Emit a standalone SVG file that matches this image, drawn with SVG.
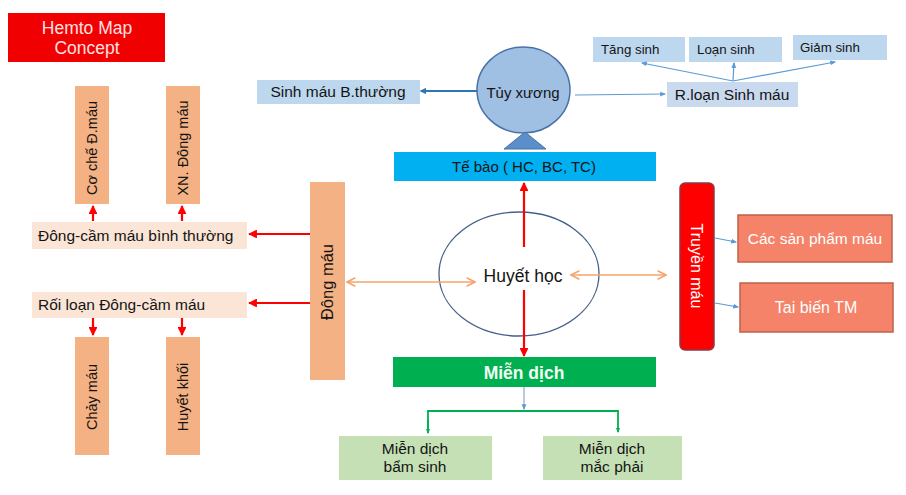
<svg xmlns="http://www.w3.org/2000/svg" width="906" height="495" viewBox="0 0 906 495">
<style>
text{font-family:"Liberation Sans",Arial,sans-serif;font-size:15.5px;fill:#141414}
.c{text-anchor:middle}
.peach{fill:#f4b183}
.lpeach{fill:#fbe5d6}
.lblue{fill:#bdd7ee}
.red{stroke:#ff0000;stroke-width:2.2;fill:none}
.org{stroke:#f4a46c;stroke-width:1.5;fill:none}
.blu{stroke:#5b9bd5;stroke-width:1.2;fill:none}
.grn{stroke:#00b050;stroke-width:1.8;fill:none}
</style>
<defs>
<marker id="ar" viewBox="0 0 10 10" refX="9" refY="5" markerWidth="4" markerHeight="4" orient="auto-start-reverse" markerUnits="strokeWidth"><path d="M0,0 L10,5 L0,10 z" fill="#ff0000"/></marker>
<marker id="ao" viewBox="0 0 10 10" refX="9" refY="5" markerWidth="7" markerHeight="7" orient="auto-start-reverse" markerUnits="strokeWidth"><path d="M1,1 L9,5 L1,9" fill="none" stroke="#f4a46c" stroke-width="1.5"/></marker>
<marker id="ab" viewBox="0 0 10 10" refX="8" refY="5" markerWidth="5" markerHeight="5" orient="auto" markerUnits="strokeWidth"><path d="M0,1 L10,5 L0,9 z" fill="#5b9bd5"/></marker>
<marker id="abd" viewBox="0 0 10 10" refX="8" refY="5" markerWidth="3" markerHeight="3" orient="auto" markerUnits="strokeWidth"><path d="M0,0 L10,5 L0,10 z" fill="#2e75b6"/></marker>
<marker id="ag" viewBox="0 0 10 10" refX="8" refY="5" markerWidth="3" markerHeight="3" orient="auto" markerUnits="strokeWidth"><path d="M0,1 L10,5 L0,9 z" fill="#00b050"/></marker>
</defs>

<g id="title"><rect x="8" y="13" width="157" height="49" fill="#f00000"/><text class="c" x="87" y="34" style="fill:#ffe0e0;font-size:17.5px">Hemto Map</text><text class="c" x="87" y="54" style="fill:#ffe0e0;font-size:17.5px">Concept</text></g>

<g id="co-che"><rect class="peach" x="75" y="86" width="34" height="118"/><text class="c" x="92" y="148" dy="5" transform="rotate(-90 92 148)" style="font-size:14.5px">Cơ chế Đ.máu</text></g>
<g id="xn-dong-mau"><rect class="peach" x="166" y="86" width="34" height="118"/><text class="c" x="183" y="148" dy="5" transform="rotate(-90 183 148)" style="font-size:14.5px">XN. Đông máu</text></g>
<g id="dong-cam-bt"><rect class="lpeach" x="32" y="222" width="215" height="27"/><text x="38" y="241">Đông-cầm máu bình thường</text></g>
<g id="roi-loan-dc"><rect class="lpeach" x="32" y="292" width="215" height="26"/><text x="38" y="310">Rối loạn Đông-cầm máu</text></g>
<g id="chay-mau"><rect class="peach" x="75" y="337" width="34" height="118"/><text class="c" x="92" y="397" dy="5" transform="rotate(-90 92 397)" style="font-size:14.5px">Chảy máu</text></g>
<g id="huyet-khoi"><rect class="peach" x="166" y="337" width="34" height="118"/><text class="c" x="183" y="397" dy="5" transform="rotate(-90 183 397)" style="font-size:14.5px">Huyết khối</text></g>
<g id="dong-mau"><rect class="peach" x="310" y="182" width="35" height="198"/><text class="c" x="327" y="282" dy="6" transform="rotate(-90 327 282)" style="font-size:16.5px">Đông máu</text></g>

<g id="sinh-mau-bt"><rect class="lblue" x="257" y="80" width="163" height="24"/><text class="c" x="338" y="97">Sinh máu B.thường</text></g>
<g id="tuy-xuong"><ellipse cx="523.5" cy="90" rx="46.5" ry="43" fill="#9fbfe3" stroke="#4a72a8" stroke-width="1.5"/><polygon points="525,132 504,149 546,149" fill="#5b8fcb" stroke="#4a72a8" stroke-width="1"/><text class="c" x="523" y="98" style="font-size:15px">Tủy xương</text></g>
<g id="r-loan"><rect x="667" y="82" width="131" height="25" fill="#c9d9ee"/><text class="c" x="732" y="100">R.loạn Sinh máu</text></g>
<g id="tang-sinh"><rect class="lblue" x="593" y="37" width="92" height="25"/><text x="601" y="54" style="font-size:13.3px">Tăng sinh</text></g>
<g id="loan-sinh"><rect class="lblue" x="689" y="37" width="93" height="25"/><text x="697" y="54" style="font-size:13.3px">Loạn sinh</text></g>
<g id="giam-sinh"><rect class="lblue" x="793" y="35" width="94" height="25"/><text x="800" y="52" style="font-size:13.3px">Giảm sinh</text></g>

<g id="te-bao"><rect x="394" y="152" width="262" height="29" fill="#00b0f0"/><text class="c" x="524" y="172" style="font-size:15px">Tế bào ( HC, BC, TC)</text></g>
<g id="huyet-hoc"><ellipse cx="519" cy="274" rx="80" ry="62" fill="#ffffff" stroke="#44608a" stroke-width="1.3"/><text class="c" x="523" y="282" style="font-size:17.5px">Huyết học</text></g>
<g id="mien-dich"><rect x="393" y="357" width="263" height="30" fill="#00b050"/><text class="c" x="524" y="379" style="font-size:17.5px;font-weight:bold;fill:#f4fff4">Miễn dịch</text></g>
<g id="md-bam-sinh"><rect x="339" y="436" width="153" height="44" fill="#c5e0b4"/><text class="c" x="415" y="454">Miễn dịch</text><text class="c" x="415" y="472">bẩm sinh</text></g>
<g id="md-mac-phai"><rect x="543" y="436" width="139" height="44" fill="#c5e0b4"/><text class="c" x="612" y="454">Miễn dịch</text><text class="c" x="612" y="472">mắc phải</text></g>

<g id="truyen-mau"><rect x="680" y="183" width="34" height="167" rx="5" fill="#ff0000" stroke="#8b3a4a" stroke-width="1.5"/><text class="c" x="697" y="266" dy="6" transform="rotate(90 697 266)" style="fill:#ffffff;font-size:16px">Truyền máu</text></g>
<g id="san-pham"><rect x="738" y="215" width="154" height="47" fill="#f4836a" stroke="#c0604a" stroke-width="1.5"/><text class="c" x="815" y="244" style="fill:#ffffff;font-size:15.5px">Các sản phẩm máu</text></g>
<g id="tai-bien"><rect x="740" y="283" width="153" height="49" fill="#f4836a" stroke="#c0604a" stroke-width="1.5"/><text class="c" x="816" y="313" style="fill:#ffffff;font-size:16px">Tai biến TM</text></g>

<g id="connectors">
<line class="red" x1="93" y1="221" x2="93" y2="206" marker-end="url(#ar)"/>
<line class="red" x1="182" y1="221" x2="182" y2="206" marker-end="url(#ar)"/>
<line class="red" x1="310" y1="234" x2="249" y2="234" marker-end="url(#ar)"/>
<line class="red" x1="310" y1="303" x2="249" y2="303" marker-end="url(#ar)"/>
<line class="red" x1="93" y1="318" x2="93" y2="335" marker-end="url(#ar)"/>
<line class="red" x1="182" y1="318" x2="182" y2="335" marker-end="url(#ar)"/>
<line class="red" x1="524" y1="247" x2="524" y2="183" marker-end="url(#ar)"/>
<line class="red" x1="524" y1="290" x2="524" y2="356" marker-end="url(#ar)"/>
<line class="org" x1="347" y1="282" x2="475" y2="282" marker-start="url(#ao)" marker-end="url(#ao)"/>
<line class="org" x1="571" y1="275" x2="666" y2="275" marker-start="url(#ao)" marker-end="url(#ao)"/>
<line x1="477" y1="91" x2="421" y2="91" stroke="#2e75b6" stroke-width="2.2" marker-end="url(#abd)"/>
<line class="blu" x1="575" y1="95" x2="665" y2="94" marker-end="url(#ab)"/>
<line class="blu" x1="733" y1="81" x2="642" y2="63" marker-end="url(#ab)"/>
<line class="blu" x1="733" y1="81" x2="734" y2="63" marker-end="url(#ab)"/>
<line class="blu" x1="733" y1="81" x2="835" y2="62" marker-end="url(#ab)"/>
<line class="blu" x1="715" y1="238" x2="736" y2="242" marker-end="url(#ab)"/>
<line class="blu" x1="715" y1="303" x2="738" y2="307" marker-end="url(#ab)"/>
<line x1="524" y1="387" x2="524" y2="409" stroke="#8fa3c8" stroke-width="1.2" marker-end="url(#ab)"/>
<polyline class="grn" points="428,432 428,411 618,411 618,432" marker-end="url(#ag)"/>
<line class="grn" x1="428" y1="420" x2="428" y2="433" marker-end="url(#ag)"/>
</g>
</svg>
